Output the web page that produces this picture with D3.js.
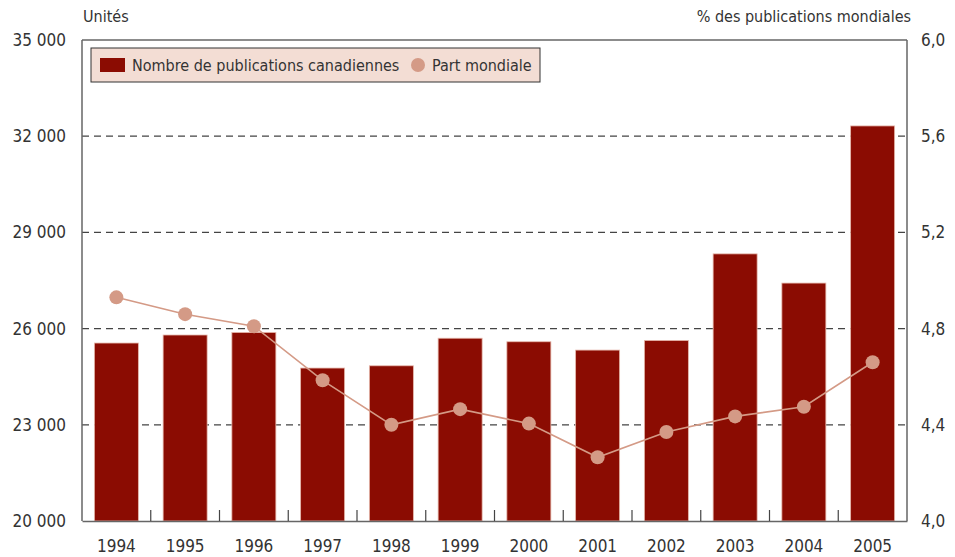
<!DOCTYPE html>
<html>
<head>
<meta charset="utf-8">
<script src="https://cdn.jsdelivr.net/npm/d3@7"></script>
<style>
  body { margin: 0; background: #fff; }
  text { font-family: "Liberation Sans Narrow", "DejaVu Sans Condensed", "Open Sans", sans-serif; fill: #333; }
</style>
</head>
<body>
<div id="chart"></div>
<script>
const years = ["1994", "1995", "1996", "1997", "1998", "1999", "2000", "2001", "2002", "2003", "2004", "2005"];
const publications = [25550, 25800, 25880, 24770, 24840, 25700, 25590, 25330, 25630, 28330, 27420, 32320];
const worldShare = [4.93, 4.86, 4.81, 4.585, 4.40, 4.465, 4.405, 4.265, 4.37, 4.435, 4.475, 4.66];
const leftTicks = [20000, 23000, 26000, 29000, 32000, 35000];
const rightTicks = [4.0, 4.4, 4.8, 5.2, 5.6, 6.0];

const width = 955, height = 557;
const margin = { top: 40, right: 48, bottom: 36, left: 82 };

const svg = d3.select("#chart").append("svg")
    .attr("width", width)
    .attr("height", height);

const x = d3.scaleBand()
    .domain(years)
    .range([margin.left, width - margin.right])
    .paddingInner(0.36)
    .paddingOuter(0.18);

const y = d3.scaleLinear()
    .domain([20000, 35000])
    .range([height - margin.bottom, margin.top]);

const y2 = d3.scaleLinear()
    .domain([4.0, 6.0])
    .range([height - margin.bottom, margin.top]);

const fmtLeft = d => d3.format(",")(d).replace(",", " ");
const fmtRight = d => d3.format(".1f")(d).replace(".", ",");

// dashed gridlines
svg.append("g")
    .selectAll("line")
    .data(leftTicks.slice(1, -1))
    .enter().append("line")
    .attr("x1", margin.left)
    .attr("x2", width - margin.right)
    .attr("y1", d => y(d))
    .attr("y2", d => y(d))
    .attr("stroke", "#444")
    .attr("stroke-width", 1.2)
    .attr("stroke-dasharray", "7,5");

// bars
svg.append("g")
    .selectAll("rect")
    .data(years)
    .enter().append("rect")
    .attr("x", d => x(d))
    .attr("y", (d, i) => y(publications[i]))
    .attr("width", x.bandwidth())
    .attr("height", (d, i) => y(20000) - y(publications[i]))
    .attr("fill", "#8b0c02")
    .attr("stroke", "#e6b8ac")
    .attr("stroke-width", 0.8);

// frame
const frame = svg.append("g").attr("stroke", "#666").attr("stroke-width", 1.5);
frame.append("line").attr("x1", margin.left).attr("x2", width - margin.right)
    .attr("y1", margin.top).attr("y2", margin.top);
frame.append("line").attr("x1", margin.left).attr("x2", margin.left)
    .attr("y1", margin.top).attr("y2", height - margin.bottom);
frame.append("line").attr("x1", width - margin.right).attr("x2", width - margin.right)
    .attr("y1", margin.top).attr("y2", height - margin.bottom);

// bottom axis with separator ticks
const xAxis = svg.append("g")
    .attr("transform", `translate(0,${height - margin.bottom})`)
    .call(d3.axisBottom(x).tickSize(0).tickPadding(19));
xAxis.select(".domain").attr("stroke", "#666").attr("stroke-width", 1.5);
xAxis.selectAll("text").attr("font-size", 17).attr("fill", "#333");
xAxis.selectAll(".sep")
    .data(years.slice(1))
    .enter().append("line")
    .attr("class", "sep")
    .attr("x1", d => x(d) - x.step() * x.paddingInner() / 2)
    .attr("x2", d => x(d) - x.step() * x.paddingInner() / 2)
    .attr("y1", 0)
    .attr("y2", -11)
    .attr("stroke", "#444")
    .attr("stroke-width", 1.2);

// left axis
const yAxis = svg.append("g")
    .attr("transform", `translate(${margin.left},0)`)
    .call(d3.axisLeft(y).tickValues(leftTicks).tickSize(0).tickPadding(16).tickFormat(fmtLeft));
yAxis.select(".domain").remove();
yAxis.selectAll("text").attr("font-size", 17).attr("fill", "#333");

// right axis
const y2Axis = svg.append("g")
    .attr("transform", `translate(${width - margin.right},0)`)
    .call(d3.axisRight(y2).tickValues(rightTicks).tickSize(0).tickPadding(14).tickFormat(fmtRight));
y2Axis.select(".domain").remove();
y2Axis.selectAll("text").attr("font-size", 17).attr("fill", "#333");

// line series
const line = d3.line()
    .x((d, i) => x(years[i]) + x.bandwidth() / 2)
    .y(d => y2(d));

svg.append("path")
    .datum(worldShare)
    .attr("d", line)
    .attr("fill", "none")
    .attr("stroke", "#d49a86")
    .attr("stroke-width", 1.6);

svg.append("g")
    .selectAll("circle")
    .data(worldShare)
    .enter().append("circle")
    .attr("cx", (d, i) => x(years[i]) + x.bandwidth() / 2)
    .attr("cy", d => y2(d))
    .attr("r", 7)
    .attr("fill", "#d49a86");

// axis titles
svg.append("text")
    .attr("x", margin.left + 1)
    .attr("y", 22)
    .attr("font-size", 16)
    .text("Unités");

svg.append("text")
    .attr("x", width - 44)
    .attr("y", 22)
    .attr("text-anchor", "end")
    .attr("font-size", 16)
    .text("% des publications mondiales");

// legend
const legend = svg.append("g").attr("transform", `translate(${margin.left + 9},${margin.top + 8})`);
legend.append("rect")
    .attr("width", 449)
    .attr("height", 34)
    .attr("fill", "#f3ddd4")
    .attr("stroke", "#333")
    .attr("stroke-width", 1);
legend.append("rect")
    .attr("x", 9).attr("y", 10)
    .attr("width", 25).attr("height", 14)
    .attr("fill", "#8b0c02");
legend.append("text")
    .attr("x", 41).attr("y", 23)
    .attr("font-size", 16)
    .text("Nombre de publications canadiennes");
legend.append("circle")
    .attr("cx", 327).attr("cy", 17)
    .attr("r", 7)
    .attr("fill", "#d49a86");
legend.append("text")
    .attr("x", 341).attr("y", 23)
    .attr("font-size", 16)
    .text("Part mondiale");
</script>
</body>
</html>
